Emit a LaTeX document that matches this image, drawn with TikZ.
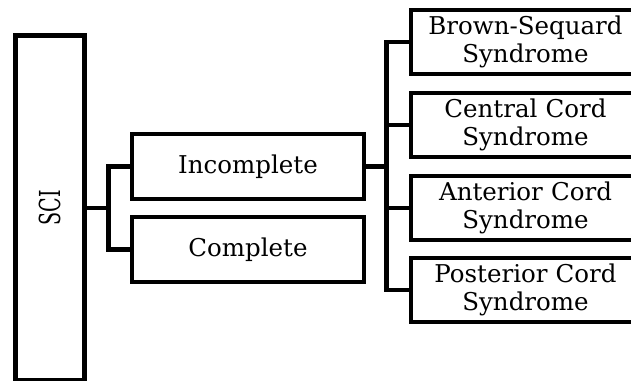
\documentclass[tikz,border=0pt]{standalone}
\usepackage{fontspec}
\setmainfont{DejaVu Serif}
\usepackage{graphicx}
\begin{document}
\begin{tikzpicture}[x=1pt,y=-1pt,
  box/.style={draw=black,line width=4.8pt,fill=white,inner sep=0pt,align=center,
    font=\fontsize{24.5}{28}\selectfont},
  link/.style={draw=black,line width=4.8pt}]
\clip (0,0) rectangle (631,380);
\useasboundingbox (0,0) rectangle (631,380);
\node[box,minimum width=69pt,minimum height=345pt] (sci) at (50,208)
  {\rotatebox{90}{\scalebox{0.78}[1.18]{SCI}}};
\node[box,minimum width=232pt,minimum height=65pt] (inc) at (248,166.5) {Incomplete};
\node[box,minimum width=232pt,minimum height=65pt] (comp) at (248,249.5) {Complete};
\node[box,minimum width=229pt,minimum height=64pt,text width=225pt] (bs) at (525.5,42) {Brown-Sequard\\Syndrome};
\node[box,minimum width=229pt,minimum height=64pt,text width=225pt] (cc) at (525.5,125) {Central Cord\\Syndrome};
\node[box,minimum width=229pt,minimum height=64pt,text width=225pt] (ac) at (525.5,208) {Anterior Cord\\Syndrome};
\node[box,minimum width=229pt,minimum height=64pt,text width=225pt] (pc) at (525.5,290) {Posterior Cord\\Syndrome};
\coordinate (j1) at (108.5,208);
\coordinate (j2) at (386.7,166.5);
\draw[link] (sci.east) -- (j1);
\draw[link] (inc.west) -| (j1) |- (comp.west);
\draw[link] (inc.east) -- (j2);
\draw[link] (bs.west) -| (j2) |- (pc.west);
\draw[link] (cc.west) -| (j2);
\draw[link] (ac.west) -| (j2);
\end{tikzpicture}
\end{document}
